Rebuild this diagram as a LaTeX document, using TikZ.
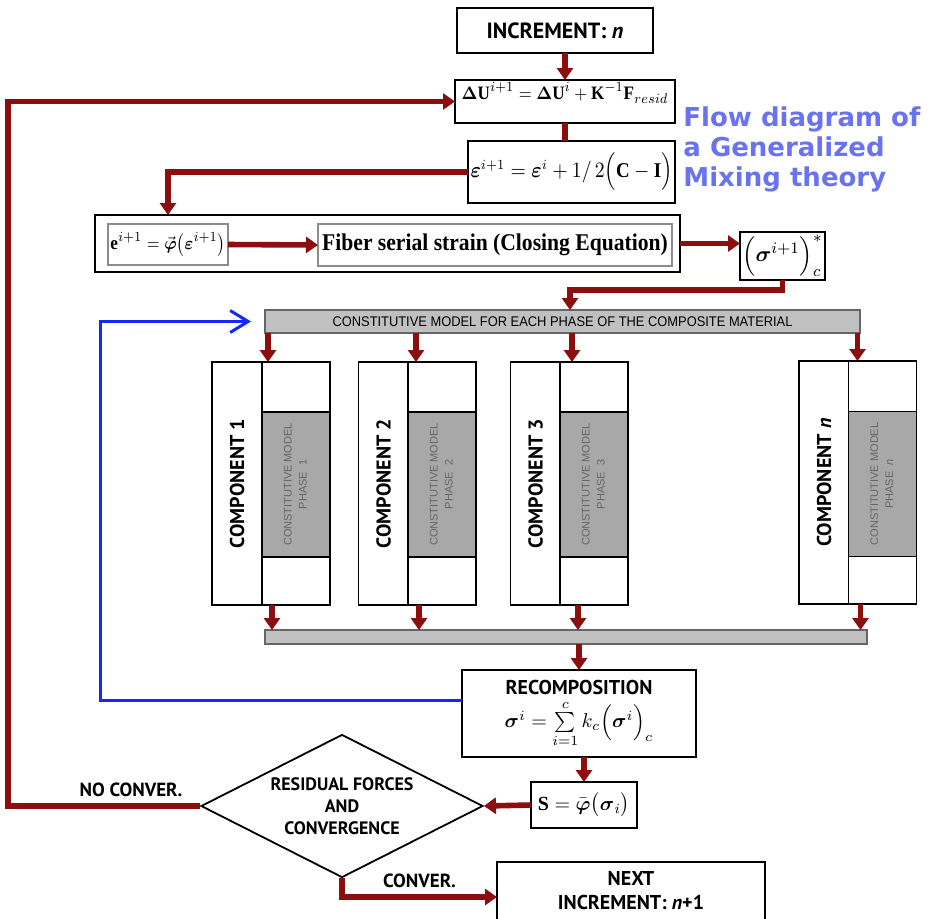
\documentclass[tikz,border=0pt]{standalone}
\usepackage{amsmath}
\usepackage{amssymb}
\usepackage{graphicx}
\usepackage{fontspec}
\setmainfont{Liberation Serif}
\newfontfamily\lblfont{PT Sans}
\newfontfamily\ttlfont{DejaVu Sans}
\newfontfamily\barfont{Liberation Sans}
\usepackage{tikz}
\usetikzlibrary{arrows.meta,shapes.geometric,calc}
\definecolor{flowred}{RGB}{140,14,14}
\definecolor{flowblue}{RGB}{20,40,250}
\definecolor{ttlblue}{RGB}{105,115,240}
\definecolor{bargray}{RGB}{192,192,192}
\definecolor{phasegray}{RGB}{168,168,168}
\def\bsym#1{\boldsymbol{#1}}
\def\comp#1{\rotatebox{90}{COMPONENT #1}}
\def\phase#1{\rotatebox{90}{\begin{tabular}{@{}c@{}}CONSTITUTIVE MODEL\\PHASE\ \ #1\end{tabular}}}

\begin{document}
\begin{tikzpicture}[x=0.5pt,y=-0.5pt,>={Triangle[length=6pt,width=8pt]},
    main node/.style={draw,line width=0.9pt,fill=white,inner sep=0pt,outer sep=0pt},
    gray node/.style={main node,fill=phasegray,text=black!60,font=\barfont\fontsize{5.5}{7.5}\selectfont},
    bar node/.style={main node,fill=bargray,draw=black!60},
    tag node/.style={font=\lblfont\bfseries\fontsize{10}{12}\selectfont,align=center},
    flow/.style={flowred,line width=2.8pt}]
  \useasboundingbox (0,0) rectangle (931,918);

  \node[main node,tag node,font=\lblfont\bfseries\fontsize{11}{13}\selectfont,
        minimum width=98pt,minimum height=22.5pt] (1) at (555,30.5) {INCREMENT: \textit{n}};
  \node[main node,minimum width=110pt,minimum height=21.5pt,text height=6pt,text depth=8pt,
        font=\fontsize{9.5}{12}\selectfont] (2) at (565,101.5)
        {\scalebox{0.9}[1]{$\bsym\Delta\mathbf{U}^{i+1}=\bsym\Delta\mathbf{U}^{i}+\mathbf{K}^{-1}\mathbf{F}_{resid}$}};
  \node[main node,minimum width=103.5pt,minimum height=31pt,font=\fontsize{10.5}{13}\selectfont] (3) at (571.5,172)
        {\scalebox{0.9}[1]{$\bsym\varepsilon^{i+1}=\bsym\varepsilon^{i}+1/\,2\Bigl(\mathbf{C}-\mathbf{I}\Bigr)$}};
  \node[main node,minimum width=292.5pt,minimum height=28.5pt] (4) at (387.5,243.5) {};
  \node[main node,draw=black!45,line width=1.2pt,minimum width=60pt,minimum height=20.5pt,
        font=\fontsize{9.5}{12}\selectfont] (5) at (168,244.5)
        {\scalebox{0.9}[1]{$\mathbf{e}^{i+1}=\vec{\bsym\varphi}\bigl(\bsym\varepsilon^{i+1}\bigr)$}};
  \node[main node,draw=black!45,minimum width=177pt,minimum height=21pt,font=\fontsize{12}{14}\selectfont] (6) at (495,245)
        {\scalebox{0.9}[1]{\bfseries Fiber serial strain (Closing Equation)}};
  \node[main node,minimum width=42.5pt,minimum height=24pt,font=\fontsize{11}{13}\selectfont] (7) at (782.5,256)
        {$\Bigl(\bsym\sigma^{i+1}\Bigr)^{*}_{c}$};
  \node[bar node,minimum width=297.5pt,minimum height=11.5pt,font=\barfont\fontsize{7}{8}\selectfont] (8) at (562.5,321.5)
        {\scalebox{0.92}[1]{CONSTITUTIVE MODEL FOR EACH PHASE OF THE COMPOSITE MATERIAL}};

  % components and their phases
  \node[main node,tag node,minimum width=25pt,minimum height=121.5pt] (11) at (237,483.5) {\comp{1}};
  \node[main node,minimum width=34pt,minimum height=121.5pt] (21) at (296,483.5) {};
  \node[gray node,minimum width=34pt,minimum height=72.5pt] (31) at (296,484.5) {\phase{1}};
  \node[main node,tag node,minimum width=25pt,minimum height=121.5pt] (12) at (383.5,483.5) {\comp{2}};
  \node[main node,minimum width=34pt,minimum height=121.5pt] (22) at (442,483.5) {};
  \node[gray node,minimum width=34pt,minimum height=72.5pt] (32) at (442,484.5) {\phase{2}};
  \node[main node,tag node,minimum width=25pt,minimum height=121.5pt] (13) at (535.5,483.5) {\comp{3}};
  \node[main node,minimum width=34pt,minimum height=121.5pt] (23) at (594,483.5) {};
  \node[gray node,minimum width=34pt,minimum height=72.5pt] (33) at (594,484.5) {\phase{3}};
  \node[main node,tag node,minimum width=25pt,minimum height=121.5pt] (14) at (824,482.5) {\comp{\textit{n}}};
  \node[main node,minimum width=34pt,minimum height=121.5pt] (24) at (882.5,482.5) {};
  \node[gray node,minimum width=34pt,minimum height=72.5pt] (34) at (882.5,484) {\phase{\textit{n}}};

  \node[bar node,minimum width=301pt,minimum height=7pt] (9) at (566,637) {};
  \node[main node,tag node,minimum width=117pt,minimum height=43.5pt] (10) at (579,713.5)
        {RECOMPOSITION\\[2pt] \normalfont\fontsize{10}{12}\selectfont
         $\bsym\sigma^{i}=\sum\limits_{i=1}^{c}k_{c}\Bigl(\bsym\sigma^{i}\Bigr)_{c}$};
  \node[main node,minimum width=53pt,minimum height=23pt,font=\fontsize{10}{12}\selectfont] (15) at (584,805)
        {$\mathbf{S}=\bar{\bsym\varphi}\bigl(\bsym\sigma_{i}\bigr)$};
  \node[draw,diamond,aspect=2,line width=0.9pt,inner sep=1pt,minimum width=141pt,minimum height=71.5pt,
        tag node,font=\lblfont\bfseries\fontsize{9}{11}\selectfont] (16) at (342,806)
        {RESIDUAL FORCES\\AND\\CONVERGENCE};
  \node[main node,tag node,minimum width=134pt,minimum height=29pt] (17) at (631,891)
        {NEXT\\INCREMENT: \textit{n}+1};
  \node[anchor=north west,align=left,inner sep=0pt,text=ttlblue,
        font=\ttlfont\bfseries\fontsize{13}{15}\selectfont] (18) at (683,106)
        {Flow diagram of\\a Generalized\\Mixing theory};

  \coordinate (a) at (570,290);
  \coordinate (b) at (8,101.5);
  \coordinate (d) at (100,321.5);

  \path[flow,->]
    (2.north |- 1.south) edge (2.north)
    (5.east) edge (6.west)
    (4.east) edge (4.east -| 7.west)
    ($(8.south -| 21.west)+(6,0)$) edge ($(21.north west)+(6,0)$)
    ($(8.south -| 22.west)+(8,0)$) edge ($(22.north west)+(8,0)$)
    ($(8.south -| 23.west)+(12,0)$) edge ($(23.north west)+(12,0)$)
    ($(8.south -| 24.west)+(9,0)$) edge ($(24.north west)+(9,0)$)
    ($(21.south west)+(10,0)$) edge ($(9.north -| 21.west)+(10,0)$)
    ($(22.south west)+(11,0)$) edge ($(9.north -| 22.west)+(11,0)$)
    ($(23.south west)+(18,0)$) edge ($(9.north -| 23.west)+(18,0)$)
    ($(24.south west)+(12,0)$) edge ($(9.north -| 24.west)+(12,0)$)
    (10.north |- 9.south) edge (10.north)
    (15.north |- 10.south) edge (15.north)
    (15.west) edge (16.east);
  \draw[flow] (2.south) -- (2.south |- 3.north);
  \draw[flow,->] (3.west) -| (5.north |- 4.north);
  \draw[flow,->] (7.south) |- (a) -- (a |- 8.north);
  \draw[flow,->] (16.west) -| node[pos=0.18,above,tag node,text=black,font=\lblfont\bfseries\fontsize{9.5}{11}\selectfont] {NO CONVER.} (b) -- (2.west);
  \draw[flow,->] (16.south) |- node[pos=0.75,above,tag node,text=black,font=\lblfont\bfseries\fontsize{9.5}{11}\selectfont] {CONVER.} ([yshift=-3pt]17.west);
  \draw[flowblue,line width=1.5pt,->,>={Straight Barb[length=9pt,width=11pt]},shorten >=7pt]
    ([yshift=6.75pt]10.west) -| (d) -- (8.west);
\end{tikzpicture}
\end{document}
